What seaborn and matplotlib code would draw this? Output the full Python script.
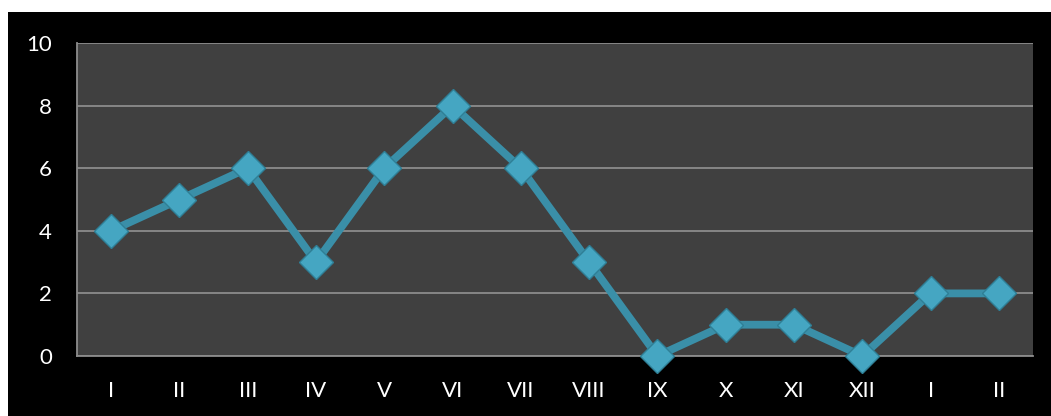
import numpy as np
import pandas as pd
import matplotlib
matplotlib.use("Agg")
import matplotlib.pyplot as plt
import seaborn as sns
from matplotlib.patches import Rectangle

# 数据
months = ["I", "II", "III", "IV", "V", "VI", "VII", "VIII", "IX", "X", "XI", "XII", "I", "II"]
values = [4, 5, 6, 3, 6, 8, 6, 3, 0, 1, 1, 0, 2, 2]
y_ticks = [0, 2, 4, 6, 8, 10]

df = pd.DataFrame({"pos": np.arange(len(months)), "value": values})

sns.set_style("dark")
plt.rcParams["font.family"] = ["Lato", "DejaVu Sans"]

fig = plt.figure(figsize=(10.51, 4.16), dpi=100, facecolor="white")
# 黑色背景
fig.patches.append(Rectangle((8 / 1051, 0), 1, (416 - 12) / 416, transform=fig.transFigure,
                             facecolor="black", edgecolor="none", zorder=-10))
ax = fig.add_axes([77 / 1051, 1 - 356 / 416, (1033 - 77) / 1051, (356 - 43) / 416])
ax.set_facecolor("#404040")

sns.lineplot(data=df, x="pos", y="value", ax=ax, color="#3A8FA8", linewidth=5.6,
             marker="D", markersize=17, markerfacecolor="#45A6C2",
             markeredgecolor="#2F7F96", markeredgewidth=1, zorder=3, clip_on=False)

ax.set_xlim(-0.5, len(months) - 0.5)
ax.set_ylim(0, 10)
ax.set_yticks(y_ticks)
ax.set_xticks(np.arange(-0.5, len(months), 1))
ax.set_xticklabels([])
ax.set_xticks(np.arange(len(months)), minor=True)
ax.set_xticklabels(months, minor=True)
ax.tick_params(axis="x", which="minor", length=0, pad=18, labelcolor="white", labelsize=16)
ax.tick_params(axis="x", which="major", length=7, width=1.2, color="#8C8C8C", direction="out")
ax.tick_params(axis="y", length=8, width=1.2, color="#8C8C8C", direction="out",
               labelcolor="white", labelsize=16, pad=10)
ax.grid(axis="y", color="#8C8C8C", linewidth=1.3)
ax.grid(axis="x", visible=False)
ax.set_axisbelow(True)
for s in ["top", "right"]:
    ax.spines[s].set_visible(False)
for s in ["left", "bottom"]:
    ax.spines[s].set_visible(True)
    ax.spines[s].set_color("#8C8C8C")
    ax.spines[s].set_linewidth(1.3)
ax.set_xlabel("")
ax.set_ylabel("")

plt.savefig("out.png", dpi=100, facecolor="white")
